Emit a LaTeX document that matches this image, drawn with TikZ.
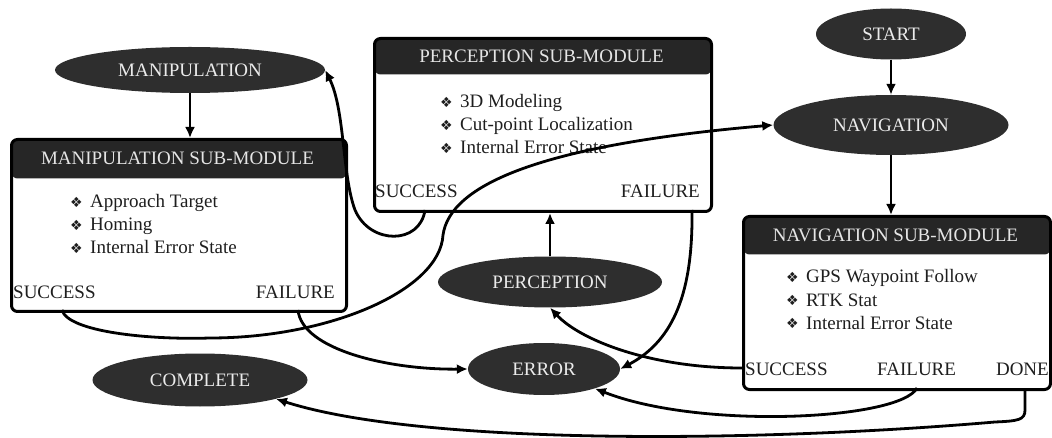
\documentclass[tikz,border=0pt]{standalone}
\usepackage{fontspec}
\setmainfont{Liberation Serif}
\newfontfamily\dingfont{DejaVu Sans}
\usetikzlibrary{shapes.geometric,arrows.meta}
\definecolor{stategray}{HTML}{2E2E2E}
\definecolor{hdrgray}{HTML}{262626}
\definecolor{inkgray}{HTML}{1E1E1E}
\newcommand\diabul{\makebox[20pt][l]{\raisebox{0.5pt}{\dingfont\fontsize{14}{14}\selectfont ❖}}}
\begin{document}
\begin{tikzpicture}[x=1pt,y=-1pt,
  state/.style={ellipse, fill=stategray, inner sep=0pt, text=white!92!black,
    font=\fontsize{19}{22}\selectfont},
  modbox/.style={draw=black, line width=3pt, rounded corners=6pt, inner sep=0pt,
    anchor=north west},
  hdrband/.style={path picture={\fill[hdrgray] (path picture bounding box.north west)
    rectangle ([yshift=-#1]path picture bounding box.north east);}},
  hdr/.style={text=white!90!black, inner sep=0pt, font=\fontsize{19}{22}\selectfont},
  item/.style={anchor=base west, inner sep=0pt, text=inkgray, font=\fontsize{19}{22}\selectfont},
  itemr/.style={item, anchor=base east},
  conn/.style={line width=2.8pt, -{Latex[length=11pt,width=10pt]}}
]
\useasboundingbox (0,0) rectangle (1052,438);

% state ellipses
\node[state, minimum width=270pt, minimum height=46pt] (man) at (190,70) {MANIPULATION};
\node[state, minimum width=150pt, minimum height=51pt] (start) at (891,34) {START};
\node[state, minimum width=235pt, minimum height=60pt] (nav) at (891,125) {NAVIGATION};
\node[state, minimum width=224pt, minimum height=51pt] (per) at (550,282) {PERCEPTION};
\node[state, minimum width=152pt, minimum height=52pt] (err) at (544,369) {ERROR};
\node[state, minimum width=215pt, minimum height=53pt] (comp) at (200,380) {COMPLETE};

% module boxes
\node[modbox, hdrband=39pt, minimum width=335pt, minimum height=172pt] (mbox) at (10,138) {};
\node[modbox, hdrband=36pt, minimum width=337pt, minimum height=173pt] (pbox) at (373,37) {};
\node[modbox, hdrband=38pt, minimum width=307pt, minimum height=173pt] (nbox) at (742,215) {};

\node[hdr] (mhead) at (177.5,158) {MANIPULATION SUB-MODULE};
\node[hdr] (phead) at (541.5,56) {PERCEPTION SUB-MODULE};
\node[hdr] (nhead) at (895.5,235) {NAVIGATION SUB-MODULE};

% manipulation items
\node[item] (m1) at (70,208) {\diabul Approach Target};
\node[item] (m2) at (70,231) {\diabul Homing};
\node[item] (m3) at (70,254) {\diabul Internal Error State};
\node[item] (msl) at (13,299) {SUCCESS};
\node[itemr] (mfl) at (335,299) {FAILURE};

% perception items
\node[item] (p1) at (440,108) {\diabul 3D Modeling};
\node[item] (p2) at (440,131) {\diabul Cut-point Localization};
\node[item] (p3) at (440,154) {\diabul Internal Error State};
\node[item] (psl) at (375,198) {SUCCESS};
\node[itemr] (pfl) at (700,198) {FAILURE};

% navigation items
\node[item] (n1) at (786,283) {\diabul GPS Waypoint Follow};
\node[item] (n2) at (786,306) {\diabul RTK Stat};
\node[item] (n3) at (786,329) {\diabul Internal Error State};
\node[item] (nsl) at (745,375) {SUCCESS};
\node[item] (nfl) at (877,375) {FAILURE};
\node[itemr] (ndl) at (1049,375) {DONE};

% connector end points on box edges
\coordinate (psucc) at (425,210);
\coordinate (pfail) at (692,210);
\coordinate (msucc) at (62,310);
\coordinate (mfail) at (298,310);
\coordinate (nsucc) at (742,368);
\coordinate (nfail) at (917,388);
\coordinate (ndone) at (1025,388);

% straight connectors
\draw[conn] (man.south) -- (man.south |- mbox.north);
\draw[conn] (start.south) -- (nav.north);
\draw[conn] (nav.south) -- (nav.south |- nbox.north);
\draw[conn] (per.north) -- (per.north |- pbox.south);

% curved connectors
\draw[conn] (psucc) .. controls (420,245) and (370,245) .. (355,210)
  .. controls (342,175) and (345,110) .. (man.east);
\draw[conn] (msucc) .. controls (68,332) and (150,340) .. (210,338)
  .. controls (330,338) and (440,290) .. (443,235)
  .. controls (450,185) and (540,145) .. (nav.west);
\draw[conn] (mfail) .. controls (302,350) and (390,370) .. (err.west);
\draw[conn] (pfail) .. controls (693,290) and (675,340) .. (err.east);
\draw[conn] (nsucc) .. controls (650,368) and (580,340) .. (per.south);
\draw[conn] (nfail) .. controls (900,420) and (700,430) .. (err.-21);
\draw[conn] (ndone) -- (1025,410) .. controls (1025,420) and (1018,421) .. (995,422)
  .. controls (750,443) and (420,445) .. (comp.-14);
\end{tikzpicture}
\end{document}
